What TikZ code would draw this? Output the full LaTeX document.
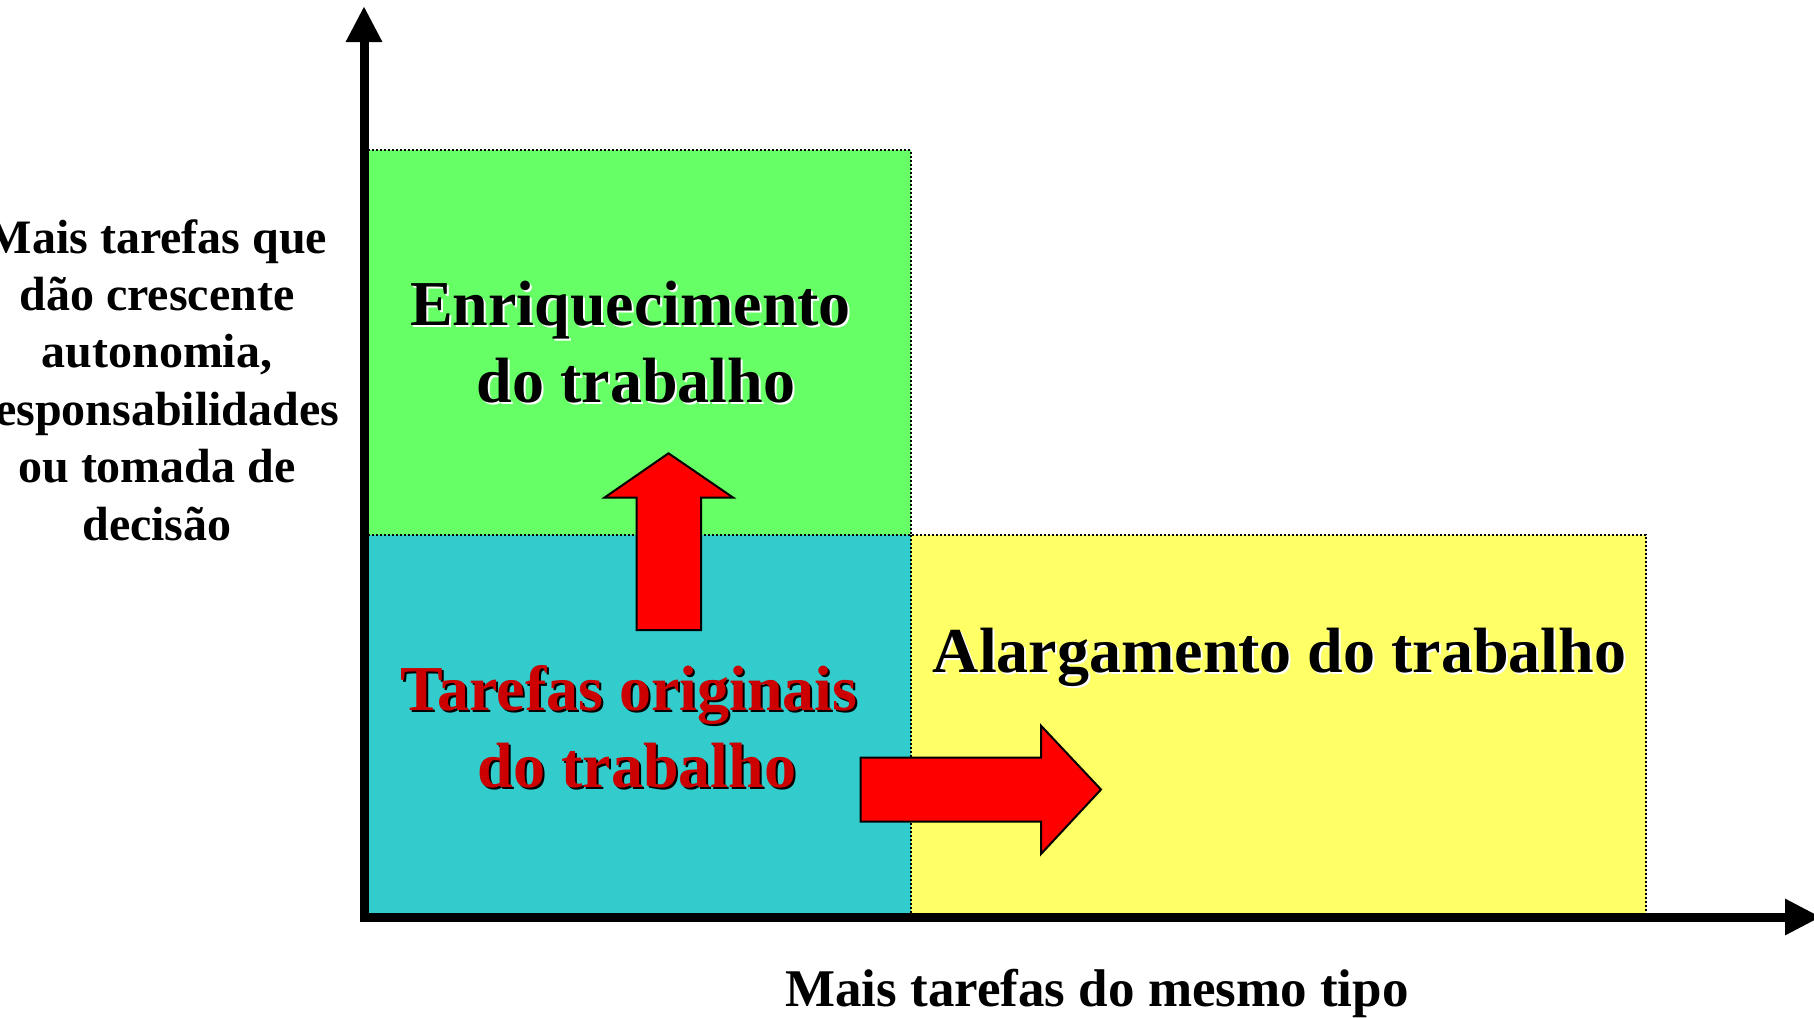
\documentclass[tikz,border=0pt]{standalone}
\usepackage{fontspec}
\setmainfont{Liberation Serif}
\usetikzlibrary{arrows.meta}
\definecolor{boxgreen}{HTML}{66FF66}
\definecolor{boxteal}{HTML}{33CCCC}
\definecolor{boxyellow}{HTML}{FFFF66}
\definecolor{arrred}{HTML}{FF0000}
\definecolor{txtred}{HTML}{CC0000}
\tikzset{
  box/.style={draw=black, line width=1pt, dash pattern=on 1pt off 1pt},
  axisline/.style={line width=4.5pt, -{Triangle[length=18pt,width=17pt]}},
  bigarrow/.style={fill=arrred, draw=black, line width=1pt, line join=miter},
  axlab/.style={font=\fontsize{24}{28}\selectfont\bfseries, inner sep=0pt, anchor=base},
  xlab/.style={font=\fontsize{26.5}{31}\selectfont\bfseries, inner sep=0pt, anchor=base},
  biglab/.style={font=\fontsize{32}{38}\selectfont\bfseries, inner sep=0pt, anchor=base},
}
\begin{document}
\begin{tikzpicture}[x=0.5pt,y=-0.5pt]
\useasboundingbox (0,0) rectangle (1814,1017);
\clip (0,0) rectangle (1814,1017);
\fill[white] (0,0) rectangle (1814,1017);
% boxes
\fill[boxgreen] (364,150) rectangle (910.5,534.5);
\fill[boxteal] (364,534.5) rectangle (910.5,917);
\fill[boxyellow] (910.5,534.5) rectangle (1646,917);
\draw[box] (364,150) -- (910.5,150) -- (910.5,534.5);
\draw[box] (364,534.5) -- (1646,534.5) -- (1646,917);
\draw[box] (910.5,534.5) -- (910.5,917);
% coordinates
\coordinate (origin) at (364,917);
\coordinate (ytip) at (364,6);
\coordinate (xtip) at (1821,917);
% axes
\draw[axisline] (364,921.5) -- (ytip);
\draw[axisline] (359.5,917) -- (xtip);
% up arrow
\draw[bigarrow] (636.7,630) -- (636.7,497.7) -- (604.3,497.7) -- (668.5,453.3)
  -- (733.3,497.7) -- (701,497.7) -- (701,630) -- cycle;
% right arrow
\draw[bigarrow] (860.7,757.7) -- (1041,757.7) -- (1041,725.7) -- (1101,789.5)
  -- (1041,854) -- (1041,821.7) -- (860.7,821.7) -- cycle;
% y label
\foreach \t [count=\i from 0] in {Mais tarefas que,dão crescente,{autonomia,},responsabilidades,ou tomada de,decisão}{
  \node[axlab] (ylab\i) at (157,253+57.4*\i) {\t};
}
% x label
\node[xlab] (xlab) at (1097,1006.5) {Mais tarefas do mesmo tipo};
% Enriquecimento
\node[biglab, white] (enr1s) at (632.5,327) {Enriquecimento};
\node[biglab] (enr1) at (630.5,325) {Enriquecimento};
\node[biglab, white] (enr2s) at (638,404) {do trabalho};
\node[biglab] (enr2) at (636,402) {do trabalho};
% Tarefas originais
\node[biglab, black] (tar1s) at (631,712) {Tarefas originais};
\node[biglab, txtred] (tar1) at (629,710) {Tarefas originais};
\node[biglab, black] (tar2s) at (639,789) {do trabalho};
\node[biglab, txtred] (tar2) at (637,787) {do trabalho};
% Alargamento
\node[biglab, white] (alas) at (1281.5,674) {Alargamento do trabalho};
\node[biglab] (ala) at (1279.5,672) {Alargamento do trabalho};
\end{tikzpicture}
\end{document}
